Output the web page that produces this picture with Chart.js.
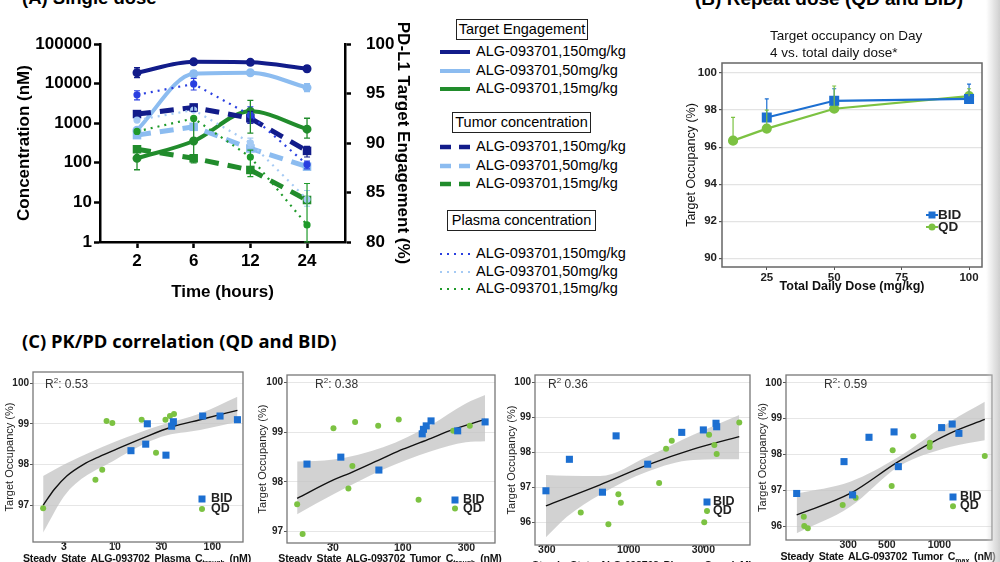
<!DOCTYPE html>
<html>
<head>
<meta charset="utf-8">
<script src="https://cdn.jsdelivr.net/npm/chart.js@4.4.1/dist/chart.umd.min.js"></script>
<style>
body{margin:0;width:1000px;height:562px;overflow:hidden;background:#fff;position:relative;font-family:"Liberation Sans",Arial,sans-serif;color:#000}
canvas{position:absolute}
.t{position:absolute;white-space:nowrap}
.box{position:absolute;border:1px solid #222;font-size:14.5px;text-align:center;white-space:nowrap}
.lg{position:absolute;font-size:14.5px;white-space:nowrap}
.xl{position:absolute;white-space:nowrap;font-weight:bold;font-size:10.6px;letter-spacing:-0.2px;word-spacing:2px;color:#111;transform:translateX(-50%)}
.xl sub{font-size:7px;letter-spacing:0}
.r2{position:absolute;font-size:12px;color:#333;white-space:nowrap}
.ck{position:absolute;font-size:12.5px;font-weight:bold;color:#222;white-space:nowrap}
.shade{position:absolute;left:986px;top:0;width:14px;height:562px;background:linear-gradient(to right,rgba(255,255,255,0),#cfcfcf)}
</style>
</head>
<body>
<div class="t" style="left:22px;top:-13px;font-weight:bold;font-size:18.5px">(A) Single dose</div>
<div class="t" style="left:695px;top:-12px;font-weight:bold;font-size:19px">(B) Repeat dose (QD and BID)</div>
<div class="t" style="left:22px;top:328px;font-family:'Open Sans';font-weight:bold;font-size:18.4px">(C) PK/PD correlation (QD and BID)</div>

<canvas id="single" width="420" height="310" style="left:0;top:0"></canvas>
<div id="legA"></div>

<canvas id="repeat" width="322" height="300" style="left:670px;top:0"></canvas>
<div class="t" style="left:770px;top:27px;font-size:13.5px;line-height:17px;color:#111">Target occupancy on Day<br>4 vs. total daily dose*</div>

<canvas id="c1" width="250" height="200" style="left:0;top:362px"></canvas>
<canvas id="c2" width="250" height="200" style="left:250px;top:362px"></canvas>
<canvas id="c3" width="255" height="200" style="left:500px;top:362px"></canvas>
<canvas id="c4" width="245" height="200" style="left:755px;top:362px"></canvas>

<div class="r2" style="left:45px;top:376px">R<sup style="font-size:8px">2</sup>: 0.53</div>
<div class="r2" style="left:315px;top:376px">R<sup style="font-size:8px">2</sup>: 0.38</div>
<div class="r2" style="left:548px;top:376px">R<sup style="font-size:8px">2</sup> 0.36</div>
<div class="r2" style="left:824px;top:376px">R<sup style="font-size:8px">2</sup>: 0.59</div>

<div class="xl" style="left:137px;top:552px">Steady State ALG-093702 Plasma C<sub>trough</sub> (nM)</div>
<div class="xl" style="left:390px;top:552px">Steady State ALG-093702 Tumor C<sub>trough</sub> (nM)</div>
<div class="xl" style="left:642px;top:559px">Steady State ALG-093702 Plasma C<sub>max</sub> (nM)</div>
<div class="xl" style="left:888px;top:550px">Steady State ALG-093702 Tumor C<sub>max</sub> (nM)</div>
<div id="legs"></div>
<div class="shade"></div>

<script>
// ---- (A) single dose ----
const timeLabels = ['2', '6', '12', '24'];
const concTicks = [1, 10, 100, 1000, 10000, 100000];
const teTicks = [80, 85, 90, 95, 100];
const doseLabels = ['ALG-093701,150mg/kg', 'ALG-093701,50mg/kg', 'ALG-093701,15mg/kg'];

const te150 = [97.1, 98.2, 98.15, 97.5];
const te50 = [91.3, 97.0, 97.1, 95.6];
const te15 = [88.45, 90.2, 93.2, 91.4];
const tumor150 = [1700, 2500, 1330, 200];
const tumor50 = [500, 810, 230, 80];
const tumor15 = [220, 130, 66, 11.5];
const plasma150 = [5200, 9800, 1600, 90];
const plasma50 = [1200, 2150, 320, 12];
const plasma15 = [620, 1320, 140, 2.7];

const te150Err = [[96.6, 97.6], [98.0, 98.4], [97.9, 98.4], [97.2, 97.8]];
const te50Err = [null, [96.7, 97.3], null, [95.2, 96.0]];
const te15Err = [[87.3, 89.6], [88.0, 92.5], [91.0, 94.3], [90.5, 92.5]];
const tumor150Err = [null, [2000, 3000], [1000, 2000], [140, 260]];
const plasma150Err = [[3900, 6600], [6900, 13600], [1000, 2600], [70, 110]];
const plasma50Err = [null, null, [250, 420], [8, 20]];
const plasma15Err = [null, null, [45, 210], [1, 30]];

// ---- (B) repeat dose ----
const doseTicks = [25, 50, 75, 100];
const occTicks = [90, 92, 94, 96, 98, 100];
const bidDose = [25, 50, 100];
const bidOcc = [97.6, 98.5, 98.6];
const bidOccHi = [98.6, 99.15, 99.4];
const qdDose = [12.5, 25, 50, 100];
const qdOcc = [96.35, 97.0, 98.07, 98.75];
const qdOccHi = [97.6, 98.0, 99.3, 99.15];

// ---- (C) PK/PD correlation ----
const c1XTicks = [3, 10, 30, 100];
const c1YTicks = [97, 98, 99, 100];
const c1BidX = [14.6, 20.7, 21.5, 33.4, 38.2, 39.8, 79.6, 120, 181];
const c1BidY = [98.34, 98.5, 99.0, 98.23, 98.94, 99.05, 99.19, 99.19, 99.1];
const c1QdX = [1.83, 6.3, 7.4, 8.2, 9.4, 18.8, 26.4, 33, 36.7, 40.4];
const c1QdY = [96.93, 97.63, 97.87, 99.07, 99.02, 99.1, 98.29, 99.1, 99.19, 99.24];
const c1FitX = [1.83, 2.4, 3.2, 4.72, 7, 10, 20.7, 38.2, 74.8, 181];
const c1FitY = [97.0, 97.4, 97.72, 98.0, 98.2, 98.36, 98.68, 98.92, 99.1, 99.33];
const c1BandX = [1.83, 3.19, 10, 30, 74.8, 181];
const c1BandHi = [97.72, 98.03, 98.56, 98.97, 99.25, 99.66];
const c1BandLo = [96.33, 97.3, 98.11, 98.68, 98.85, 99.05];

const c2XTicks = [30, 100, 300];
const c2YTicks = [97, 98, 99, 100];
const c2BidX = [19.2, 34.4, 66.3, 140, 143, 150, 163, 258, 414];
const c2BidY = [98.36, 98.5, 98.24, 98.97, 99.06, 99.13, 99.23, 99.03, 99.21];
const c2QdX = [16.2, 17.8, 30.3, 39.2, 42, 44, 65.5, 93.4, 131.5, 239, 318];
const c2QdY = [97.55, 96.95, 99.08, 97.87, 98.32, 99.21, 99.13, 99.26, 97.64, 99.03, 99.13];
const c2FitX = [16.2, 30.3, 40.4, 71.3, 100.4, 163, 223, 414];
const c2FitY = [97.67, 98.04, 98.18, 98.48, 98.66, 98.88, 99.03, 99.26];
const c2BandX = [16.2, 30.3, 71.3, 163, 297, 414];
const c2BandHi = [98.41, 98.45, 98.7, 99.15, 99.58, 99.75];
const c2BandLo = [97.35, 97.75, 98.25, 98.62, 98.8, 98.82];

const c3XTicks = [300, 1000, 3000];
const c3YTicks = [96, 97, 98, 99, 100];
const c3BidX = [296, 418, 680, 831, 1323, 2183, 3000, 3614, 3650];
const c3BidY = [96.91, 97.81, 96.87, 98.48, 97.67, 98.58, 98.65, 98.84, 98.74];
const c3QdX = [494, 742, 859, 891, 1565, 1734, 1885, 3040, 3264, 3527, 3650, 5090];
const c3QdY = [96.29, 95.95, 96.81, 96.57, 97.13, 98.11, 98.34, 96.01, 98.51, 98.22, 97.96, 98.86];
const c3FitX = [296, 656, 1323, 2589, 5090];
const c3FitY = [96.48, 97.08, 97.65, 98.1, 98.46];
const c3BandX = [296, 403, 656, 1323, 2589, 5090];
const c3BandHi = [97.36, 97.34, 97.33, 97.89, 98.51, 99.08];
const c3BandLo = [95.58, 96.17, 96.8, 97.46, 97.79, 97.81];

const c4XTicks = [300, 500, 1000];
const c4YTicks = [96, 97, 98, 99, 100];
const c4BidX = [152, 284, 318, 395, 550, 582, 1031, 1185, 1295];
const c4BidY = [96.91, 97.8, 96.87, 98.48, 98.63, 97.66, 98.75, 98.85, 98.59];
const c4QdX = [167, 168, 176, 279, 331, 533, 540, 709, 880, 883, 1823];
const c4QdY = [96.26, 96.0, 95.94, 96.59, 96.79, 97.12, 98.12, 98.51, 98.21, 98.33, 97.96];
const c4FitX = [152, 308, 582, 1148, 1823];
const c4FitY = [96.31, 96.91, 97.8, 98.59, 98.98];
const c4BandX = [152, 308, 582, 1148, 1823];
const c4BandHi = [96.91, 97.24, 97.93, 98.91, 99.47];
const c4BandLo = [95.8, 96.54, 97.66, 98.21, 98.4];

const NAVY = '#121c8a', LIGHT = '#8cbcf0', GREEN = '#218c2c';
const BLUE_DOT = '#2a3fe0', LIGHT_DOT = '#a5caf4', GREEN_DOT = '#1f9a2a';
const BID_C = '#1c6fd1', QD_C = '#7cc242';

Chart.defaults.font.family = '"Liberation Sans", Arial, sans-serif';
Chart.defaults.color = '#000';
Chart.defaults.animation = false;
Chart.defaults.plugins.legend.display = false;
Chart.defaults.plugins.tooltip.enabled = false;

// fixed axis sizes so the plot areas land where the picture has them
function fitW(w) { return s => { s.width = w; s.paddingTop = 0; s.paddingBottom = 0; }; }
function fitH(h) { return s => { s.height = h; s.paddingLeft = 0; s.paddingRight = 0; }; }
function setTicks(arr) { return s => { s.ticks = arr.map(v => ({value: v})); }; }
const xy = (xs, ys) => xs.map((x, i) => ({x: x, y: ys[i]}));
const idx = ys => ys.map((y, i) => ({x: i + 1, y: y}));

const errorBars = {
  id: 'errorBars',
  afterDatasetsDraw(chart) {
    const ctx = chart.ctx;
    chart.data.datasets.forEach((ds, i) => {
      if (!ds.err) return;
      const meta = chart.getDatasetMeta(i);
      const xs = chart.scales[meta.xAxisID], ys = chart.scales[meta.yAxisID];
      ctx.save();
      ctx.strokeStyle = ds.errColor || ds.borderColor;
      ctx.lineWidth = ds.errWidth || 1.2;
      ctx.setLineDash([]);
      ds.err.forEach((e, j) => {
        if (!e) return;
        const x = xs.getPixelForValue(ds.data[j].x);
        const y1 = ys.getPixelForValue(e[0]), y2 = ys.getPixelForValue(e[1]);
        const c = ds.errCap || 3;
        ctx.beginPath();
        ctx.moveTo(x, y1); ctx.lineTo(x, y2);
        ctx.moveTo(x - c, y2); ctx.lineTo(x + c, y2);
        if (!ds.errUpOnly) { ctx.moveTo(x - c, y1); ctx.lineTo(x + c, y1); }
        ctx.stroke();
      });
      ctx.restore();
    });
  }
};

const frame = {
  id: 'frame',
  afterDraw(chart, args, opts) {
    if (!opts.color) return;
    const a = chart.chartArea, ctx = chart.ctx;
    ctx.save();
    ctx.strokeStyle = opts.color;
    ctx.lineWidth = opts.width || 1;
    ctx.strokeRect(a.left, a.top, a.right - a.left, a.bottom - a.top);
    ctx.restore();
  }
};

// ---- chart A ----
const bold17 = {size: 17, weight: 'bold'};
function teSet(vals, err, color) {
  return {data: idx(vals), yAxisID: 'y2', borderColor: color, backgroundColor: color, borderWidth: 4,
    pointRadius: 2.5, cubicInterpolationMode: 'monotone', err: err, errWidth: 1.3};
}
function tumorSet(vals, err, color) {
  return {data: idx(vals), yAxisID: 'y', borderColor: color, backgroundColor: color, borderWidth: 5,
    borderDash: [14, 9], pointRadius: 2.5, pointStyle: 'rect', err: err};
}
function plasmaSet(vals, err, color) {
  return {data: idx(vals), yAxisID: 'y', borderColor: color, backgroundColor: color, borderWidth: 2.2,
    borderDash: [2, 5], pointRadius: 2.5, err: err};
}

new Chart(document.getElementById('single'), {
  type: 'line',
  data: {
    datasets: [
      plasmaSet(plasma150, plasma150Err, BLUE_DOT),
      plasmaSet(plasma50, plasma50Err, LIGHT_DOT),
      plasmaSet(plasma15, plasma15Err, GREEN_DOT),
      tumorSet(tumor150, tumor150Err, NAVY),
      tumorSet(tumor50, null, LIGHT),
      tumorSet(tumor15, null, GREEN),
      teSet(te150, te150Err, NAVY),
      teSet(te50, te50Err, LIGHT),
      teSet(te15, te15Err, GREEN)
    ]
  },
  options: {
    responsive: false,
    layout: {padding: {left: 10, top: 44, right: 3, bottom: 3}},
    scales: {
      x: {
        type: 'linear', min: 0.347, max: 4.67,
        afterBuildTicks: setTicks([1, 2, 3, 4]), afterFit: fitH(65),
        ticks: {font: bold17, color: '#000', padding: 3, callback: v => timeLabels[v - 1]},
        grid: {drawOnChartArea: false, tickLength: 6, tickWidth: 2.5, tickColor: '#000'},
        border: {color: '#000', width: 2.5},
        title: {display: true, text: 'Time (hours)', font: bold17, color: '#000'}
      },
      y: {
        type: 'logarithmic', position: 'left', min: 1, max: 100000,
        afterBuildTicks: setTicks(concTicks), afterFit: fitW(90),
        ticks: {font: bold17, color: '#000', padding: 2, callback: v => String(v)},
        grid: {drawOnChartArea: false, tickLength: 6, tickWidth: 2.5, tickColor: '#000'},
        border: {color: '#000', width: 2.5},
        title: {display: true, text: 'Concentration (nM)', font: bold17, color: '#000'}
      },
      y2: {
        type: 'linear', position: 'right', min: 80, max: 100,
        afterBuildTicks: setTicks(teTicks), afterFit: fitW(72),
        ticks: {font: bold17, color: '#000', padding: 15},
        grid: {drawOnChartArea: false, tickLength: 6, tickWidth: 2.5, tickColor: '#000'},
        border: {color: '#000', width: 2.5},
        title: {display: true, text: 'PD-L1 Target Engagement (%)', font: bold17, color: '#000'}
      }
    }
  },
  plugins: [errorBars]
});

// legend of chart A, built from the same labels
(function () {
  const groups = [
    {title: 'Target Engagement', box: [456, 19, 130], rows: [52, 71, 89],
     colors: [NAVY, LIGHT, GREEN], w: 4, dash: ''},
    {title: 'Tumor concentration', box: [452, 112, 137], rows: [147, 166, 184],
     colors: [NAVY, LIGHT, GREEN], w: 4.5, dash: '11 8'},
    {title: 'Plasma concentration', box: [447, 210, 147], rows: [254, 272, 289],
     colors: [BLUE_DOT, LIGHT_DOT, GREEN_DOT], w: 2, dash: '2 5'}
  ];
  let html = '';
  groups.forEach(g => {
    html += '<div class="box" style="left:' + g.box[0] + 'px;top:' + g.box[1] + 'px;width:' + g.box[2] +
      'px;height:19px;line-height:19px">' + g.title + '</div>';
    g.rows.forEach((y, i) => {
      html += '<svg style="position:absolute;left:440px;top:' + (y - 5) + 'px" width="32" height="10">' +
        '<line x1="0" y1="5" x2="30" y2="5" stroke="' + g.colors[i] + '" stroke-width="' + g.w +
        '" stroke-dasharray="' + g.dash + '"/></svg>';
      html += '<div class="lg" style="left:476px;top:' + (y - 9) + 'px">' + doseLabels[i] + '</div>';
    });
  });
  document.getElementById('legA').innerHTML = html;
})();

// ---- chart B ----
const tickFont = {size: 11.5, weight: 'bold'};
new Chart(document.getElementById('repeat'), {
  type: 'line',
  data: {
    datasets: [
      {data: xy(bidDose, bidOcc), borderColor: BID_C, backgroundColor: BID_C, borderWidth: 2.2,
       pointStyle: 'rect', pointRadius: 5.5, err: bidDose.map((d, i) => [bidOcc[i], bidOccHi[i]]),
       errUpOnly: true, errWidth: 1.2, errCap: 2},
      {data: xy(qdDose, qdOcc), borderColor: QD_C, backgroundColor: QD_C, borderWidth: 2.2,
       pointRadius: 4, err: qdDose.map((d, i) => [qdOcc[i], qdOccHi[i]]),
       errUpOnly: true, errWidth: 1.2, errCap: 2}
    ]
  },
  options: {
    responsive: false,
    layout: {padding: {left: 0, top: 63, right: 10, bottom: 0}},
    scales: {
      x: {
        type: 'linear', min: 8.4, max: 104.8,
        afterBuildTicks: setTicks(doseTicks), afterFit: fitH(33),
        ticks: {font: tickFont, color: '#222', padding: 1},
        grid: {drawOnChartArea: false, tickLength: 3, tickColor: '#555'},
        border: {display: false},
        title: {display: true, text: 'Total Daily Dose (mg/kg)', font: {size: 12.5, weight: 'bold'},
          color: '#111', padding: {top: 0, bottom: 5.5}}
      },
      y: {
        type: 'linear', min: 89.53, max: 100.54,
        afterBuildTicks: setTicks(occTicks), afterFit: fitW(52),
        ticks: {font: tickFont, color: '#222', padding: 2},
        grid: {color: '#e3e3e3', lineWidth: 1.2, tickLength: 3, tickColor: '#555'},
        border: {display: false},
        title: {display: true, text: 'Target Occupancy (%)', font: {size: 12.5}, color: '#111',
          padding: {top: 14, bottom: 0}}
      }
    },
    plugins: {frame: {color: '#666', width: 1.5}}
  },
  plugins: [errorBars, frame]
});

// ---- charts C ----
function pkpd(id, o) {
  const small = {size: 10, weight: 'bold'};
  new Chart(document.getElementById(id), {
    type: 'scatter',
    data: {
      datasets: [
        {data: xy(o.bidX, o.bidY), pointStyle: 'rect', pointRadius: 5, backgroundColor: BID_C, borderWidth: 0},
        {data: xy(o.qdX, o.qdY), pointStyle: 'circle', pointRadius: 3, backgroundColor: QD_C, borderWidth: 0},
        {type: 'line', data: xy(o.fitX, o.fitY), borderColor: '#111', borderWidth: 1.4, pointRadius: 0,
         cubicInterpolationMode: 'monotone'},
        {type: 'line', data: xy(o.bandX, o.hi), borderWidth: 0, pointRadius: 0, fill: '+1',
         backgroundColor: 'rgba(195,195,195,0.75)', cubicInterpolationMode: 'monotone'},
        {type: 'line', data: xy(o.bandX, o.lo), borderWidth: 0, pointRadius: 0, fill: false,
         cubicInterpolationMode: 'monotone'}
      ]
    },
    options: {
      responsive: false,
      layout: {padding: {left: 0, top: o.pt, right: o.pr, bottom: 0}},
      scales: {
        x: {
          type: 'logarithmic', min: o.xMin, max: o.xMax,
          afterBuildTicks: setTicks(o.xTicks), afterFit: fitH(o.xh),
          ticks: {font: {size: 10.5, weight: 'bold'}, color: '#222', padding: -4, callback: v => String(v)},
          grid: {drawOnChartArea: false, tickLength: 3, tickColor: '#555'},
          border: {display: false}
        },
        y: {
          type: 'linear', min: o.yMin, max: o.yMax,
          afterBuildTicks: setTicks(o.yTicks), afterFit: fitW(o.yw),
          ticks: {font: small, color: '#222', padding: 1},
          grid: {color: '#e6e6e6', tickLength: 3, tickColor: '#555'},
          border: {display: false},
          title: {display: true, text: 'Target Occupancy (%)', font: {size: 11}, color: '#222',
            padding: {top: o.tp, bottom: 0}}
        }
      },
      plugins: {frame: {color: '#777', width: 1.3}}
    },
    plugins: [frame]
  });
}

pkpd('c1', {bidX: c1BidX, bidY: c1BidY, qdX: c1QdX, qdY: c1QdY, fitX: c1FitX, fitY: c1FitY,
  bandX: c1BandX, hi: c1BandHi, lo: c1BandLo, xTicks: c1XTicks, yTicks: c1YTicks,
  xMin: 1.44, xMax: 206.5, yMin: 96.1, yMax: 100.27, pt: 10, pr: 7, xh: 20, yw: 33, tp: 3.4});
pkpd('c2', {bidX: c2BidX, bidY: c2BidY, qdX: c2QdX, qdY: c2QdY, fitX: c2FitX, fitY: c2FitY,
  bandX: c2BandX, hi: c2BandHi, lo: c2BandLo, xTicks: c2XTicks, yTicks: c2YTicks,
  xMin: 13.6, xMax: 491, yMin: 96.77, yMax: 100.155, pt: 13, pr: 4, xh: 19, yw: 37, tp: 6.4});
pkpd('c3', {bidX: c3BidX, bidY: c3BidY, qdX: c3QdX, qdY: c3QdY, fitX: c3FitX, fitY: c3FitY,
  bandX: c3BandX, hi: c3BandHi, lo: c3BandLo, xTicks: c3XTicks, yTicks: c3YTicks,
  xMin: 252, xMax: 5960, yMin: 95.36, yMax: 100.22, pt: 13, pr: 5, xh: 17, yw: 35, tp: 5.4});
pkpd('c4', {bidX: c4BidX, bidY: c4BidY, qdX: c4QdX, qdY: c4QdY, fitX: c4FitX, fitY: c4FitY,
  bandX: c4BandX, hi: c4BandHi, lo: c4BandLo, xTicks: c4XTicks, yTicks: c4YTicks,
  xMin: 132, xMax: 2005, yMin: 95.61, yMax: 100.22, pt: 13, pr: 8, xh: 22, yw: 31, tp: 1.4});

// small BID / QD keys
(function () {
  const keys = [
    [931.7, 215, 227, 938, true],
    [202, 499, 509, 211, false],
    [455, 500, 508.5, 463, false],
    [707, 501.5, 510.5, 713, false],
    [952.7, 496.7, 506, 960, false]
  ];
  let html = '';
  keys.forEach(k => {
    const [x, yb, yq, tx, line] = k;
    if (line) {
      html += '<svg style="position:absolute;left:' + (x - 6) + 'px;top:' + (yb - 6) + 'px" width="12" height="' + (yq - yb + 12) + '">' +
        '<line x1="0" y1="6" x2="12" y2="6" stroke="' + BID_C + '" stroke-width="2"/>' +
        '<rect x="2.5" y="2.5" width="7" height="7" fill="' + BID_C + '"/>' +
        '<line x1="0" y1="' + (yq - yb + 6) + '" x2="12" y2="' + (yq - yb + 6) + '" stroke="' + QD_C + '" stroke-width="2"/>' +
        '<circle cx="6" cy="' + (yq - yb + 6) + '" r="3.5" fill="' + QD_C + '"/></svg>';
    } else {
      html += '<svg style="position:absolute;left:' + (x - 5) + 'px;top:' + (yb - 5) + 'px" width="10" height="' + (yq - yb + 10) + '">' +
        '<rect x="1.5" y="1.5" width="7" height="7" fill="' + BID_C + '"/>' +
        '<circle cx="5" cy="' + (yq - yb + 5) + '" r="3" fill="' + QD_C + '"/></svg>';
    }
    const fs = line ? 'font-size:13.5px;' : '';
    html += '<div class="ck" style="' + fs + 'left:' + tx + 'px;top:' + (yb - 8) + 'px">BID</div>';
    html += '<div class="ck" style="' + fs + 'left:' + tx + 'px;top:' + (yq - 8) + 'px">QD</div>';
  });
  document.getElementById('legs').innerHTML = html;
})();
</script>
</body>
</html>
